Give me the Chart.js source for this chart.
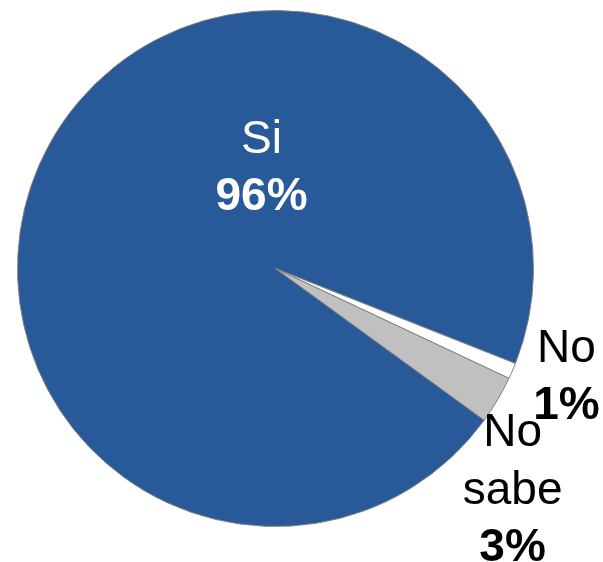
<!DOCTYPE html>
<html>
<head>
<meta charset="utf-8">
<script src="https://cdn.jsdelivr.net/npm/chart.js@4/dist/chart.umd.min.js"></script>
<style>
  html, body { margin: 0; padding: 0; background: #ffffff; }
  #wrap { width: 603px; height: 562px; position: relative; }
</style>
</head>
<body>
<div id="wrap"><canvas id="c" width="603" height="562"></canvas></div>
<script>
const categories = ["Si", "No", "No sabe"];
const labelLines = [["Si"], ["No"], ["No", "sabe"]];
const values = [96, 1, 3];
const colors = ["#285A9A", "#FFFFFF", "#C0C0C0"];

// label anchor (first line baseline) as fraction of radius from the pie centre
const labelAnchors = [[-0.054, -0.448], [1.128, 0.362], [0.919, 0.688]];
const labelColors = ["#FFFFFF", "#000000", "#000000"];

const labelPlugin = {
  id: 'sliceLabels',
  afterDatasetsDraw(chart) {
    const ctx = chart.ctx;
    const meta = chart.getDatasetMeta(0);
    const FONT = '"Liberation Sans", Arial, sans-serif';
    const size = 46, lh = 57.5;
    meta.data.forEach((arc, i) => {
      const p = arc.getProps(['x', 'y', 'outerRadius'], true);
      const r = p.outerRadius;
      const ax = p.x + labelAnchors[i][0] * r;
      let ay = p.y + labelAnchors[i][1] * r;
      ctx.save();
      ctx.textAlign = 'center';
      ctx.textBaseline = 'alphabetic';
      ctx.fillStyle = labelColors[i];
      labelLines[i].forEach(line => {
        ctx.font = 'normal ' + size + 'px ' + FONT;
        ctx.fillText(line, ax, ay);
        ay += lh;
      });
      ctx.font = 'bold ' + size + 'px ' + FONT;
      ctx.fillText(values[i] + '%', ax, ay);
      ctx.restore();
    });
  }
};

new Chart(document.getElementById('c'), {
  type: 'pie',
  data: {
    labels: categories,
    datasets: [{
      data: values,
      backgroundColor: colors,
      borderColor: '#808080',
      borderWidth: 1
    }]
  },
  options: {
    responsive: false,
    animation: false,
    rotation: 126,
    layout: { padding: { left: 17, right: 69, top: 10, bottom: 35 } },
    plugins: {
      legend: { display: false },
      tooltip: { enabled: false }
    }
  },
  plugins: [labelPlugin]
});
</script>
</body>
</html>
